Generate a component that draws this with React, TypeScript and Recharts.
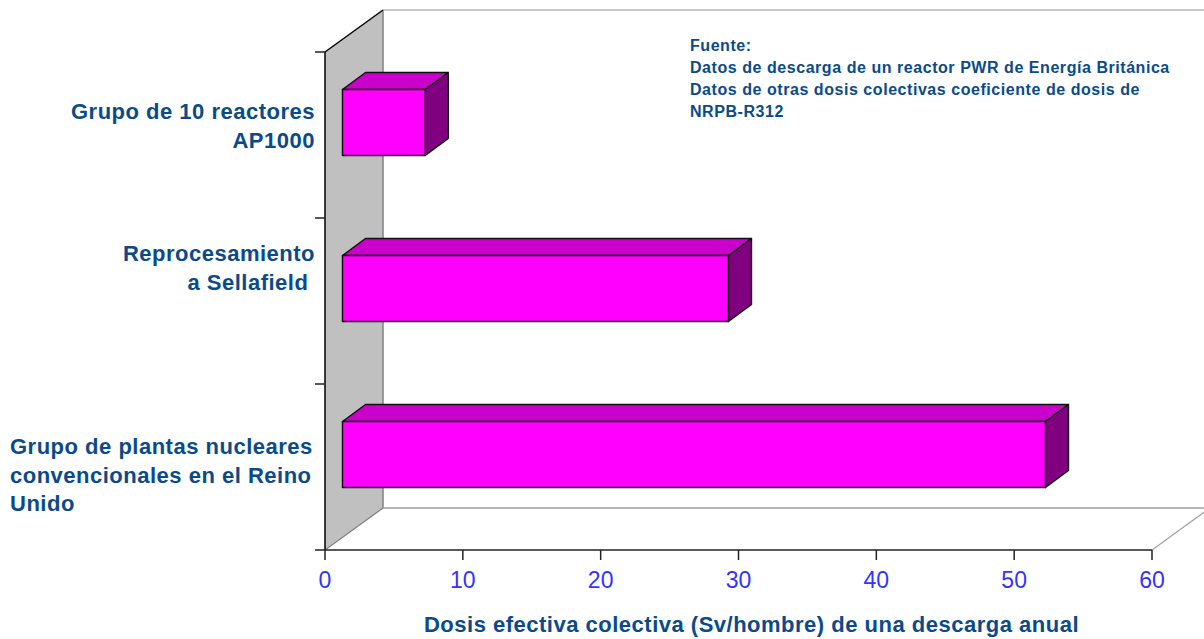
import { Bar, BarChart, XAxis, YAxis, usePlotArea } from "recharts";

const CATEGORIES = [
  "Grupo de 10 reactores\nAP1000",
  "Reprocesamiento\na Sellafield ",
  "Grupo de plantas nucleares\nconvencionales en el Reino\nUnido",
];
const DOSES = [6, 28, 51];
const X_TICKS = [0, 10, 20, 30, 40, 50, 60];
const X_TITLE = "Dosis efectiva colectiva (Sv/hombre) de una descarga anual";
const SOURCE_NOTE = [
  "Fuente:",
  "Datos de descarga de un reactor PWR de Energía Británica",
  "Datos de otras dosis colectivas coeficiente de dosis de",
  "NRPB-R312",
];

const data = CATEGORIES.map((name, i) => ({ name, dose: DOSES[i] }));

const FONT = '"Liberation Sans", Arial, sans-serif';
const NAVY = "#0b4a8a";

// fake 3D: how far the back wall sits from the front plane, and where bars sit in that depth
const WALL_DX = 58;
const WALL_DY = -42;
const BAR_DX = 17.5;
const BAR_DY = -12.5;
const BAR_DEPTH_X = 23;
const BAR_DEPTH_Y = -17;

// first-line baseline (from band centre) and alignment per category label
const TICK_LAYOUT = [
  { anchor: "end", x: 315, dy: -16 },
  { anchor: "end", x: 315, dy: -40 },
  { anchor: "start", x: 10, dy: -13 },
];

function Walls() {
  const plot = usePlotArea();
  if (!plot) return null;
  const { x, y, width, height } = plot;
  const bottom = y + height;
  const right = x + width;
  const band = height / CATEGORIES.length;
  const backX = x + WALL_DX;
  return (
    <g>
      <polygon
        points={`${x},${y} ${backX},${y + WALL_DY} ${backX},${bottom + WALL_DY} ${x},${bottom}`}
        fill="#c0c0c0"
      />
      <line x1={backX} y1={y + WALL_DY} x2={backX} y2={bottom + WALL_DY} stroke="#808080" strokeWidth={1.5} />
      <line x1={backX} y1={y + WALL_DY} x2={right + WALL_DX} y2={y + WALL_DY} stroke="#b4b4b4" strokeWidth={1.5} />
      <line x1={backX} y1={bottom + WALL_DY} x2={right + WALL_DX} y2={bottom + WALL_DY} stroke="#a0a0a0" strokeWidth={1.5} />
      <line x1={x} y1={bottom} x2={backX} y2={bottom + WALL_DY} stroke="#808080" strokeWidth={1.2} />
      <line x1={right} y1={bottom} x2={right + WALL_DX} y2={bottom + WALL_DY} stroke="#a0a0a0" strokeWidth={1.2} />
      <line x1={x} y1={y} x2={backX} y2={y + WALL_DY} stroke="#000" strokeWidth={1.5} />
      <line x1={x} y1={y} x2={x} y2={bottom} stroke="#000" strokeWidth={1.5} />
      {[0, 1, 2, 3].map((i) => (
        <line key={i} x1={x - 10} y1={y + band * i} x2={x} y2={y + band * i} stroke="#222" strokeWidth={1.5} />
      ))}
    </g>
  );
}

function Box3D(props: any) {
  const { x, y, width, height } = props;
  const fx = x + BAR_DX;
  const fy = y + BAR_DY;
  const rx = fx + width;
  const by = fy + height;
  const ox = BAR_DEPTH_X;
  const oy = BAR_DEPTH_Y;
  return (
    <g stroke="#111" strokeWidth={1.5} strokeLinejoin="round">
      <polygon points={`${fx},${fy} ${fx + ox},${fy + oy} ${rx + ox},${fy + oy} ${rx},${fy}`} fill="#cc00cc" />
      <polygon points={`${rx},${fy} ${rx + ox},${fy + oy} ${rx + ox},${by + oy} ${rx},${by}`} fill="#800080" />
      <rect x={fx} y={fy} width={width} height={height} fill="#ff00ff" />
    </g>
  );
}

function CategoryTick(props: any) {
  const { y, payload, index } = props;
  const layout = TICK_LAYOUT[index];
  return (
    <text
      textAnchor={layout.anchor}
      fontFamily={FONT}
      fontWeight="bold"
      fontSize={22}
      letterSpacing={0.5}
      fill={NAVY}
      style={{ whiteSpace: "pre" }}
    >
      {String(payload.value)
        .split("\n")
        .map((line, i) => (
          <tspan key={i} x={layout.x} y={y + layout.dy + i * 28.5}>
            {line}
          </tspan>
        ))}
    </text>
  );
}

function SourceNote() {
  return (
    <text fontFamily={FONT} fontWeight="bold" fontSize={16} letterSpacing={0.55} fill={NAVY}>
      {SOURCE_NOTE.map((line, i) => (
        <tspan key={i} x={690} y={51 + i * 22}>
          {line}
        </tspan>
      ))}
    </text>
  );
}

export default function App() {
  return (
    <div style={{ position: "absolute", left: 0, top: 0, width: 1204, height: 639 }}>
      <BarChart
        width={1204}
        height={639}
        data={data}
        layout="vertical"
        margin={{ top: 52, right: 52, bottom: 0, left: 0 }}
      >
        <Walls />
        <XAxis
          type="number"
          domain={[0, 60]}
          ticks={X_TICKS}
          height={89}
          interval={0}
          tickSize={10}
          tickMargin={12}
          stroke="#222"
          strokeWidth={1.5}
          tick={{ fill: "#3333ff", fontSize: 23, fontFamily: FONT }}
          label={{
            value: X_TITLE,
            position: "insideBottom",
            offset: 7,
            dx: 13,
            fill: NAVY,
            fontSize: 22,
            fontWeight: "bold",
            letterSpacing: 0.5,
            fontFamily: FONT,
          }}
        />
        <YAxis
          type="category"
          dataKey="name"
          width={325}
          axisLine={false}
          tickLine={false}
          interval={0}
          tick={<CategoryTick />}
        />
        <Bar dataKey="dose" barSize={66} shape={<Box3D />} isAnimationActive={false} />
        <SourceNote />
      </BarChart>
    </div>
  );
}
